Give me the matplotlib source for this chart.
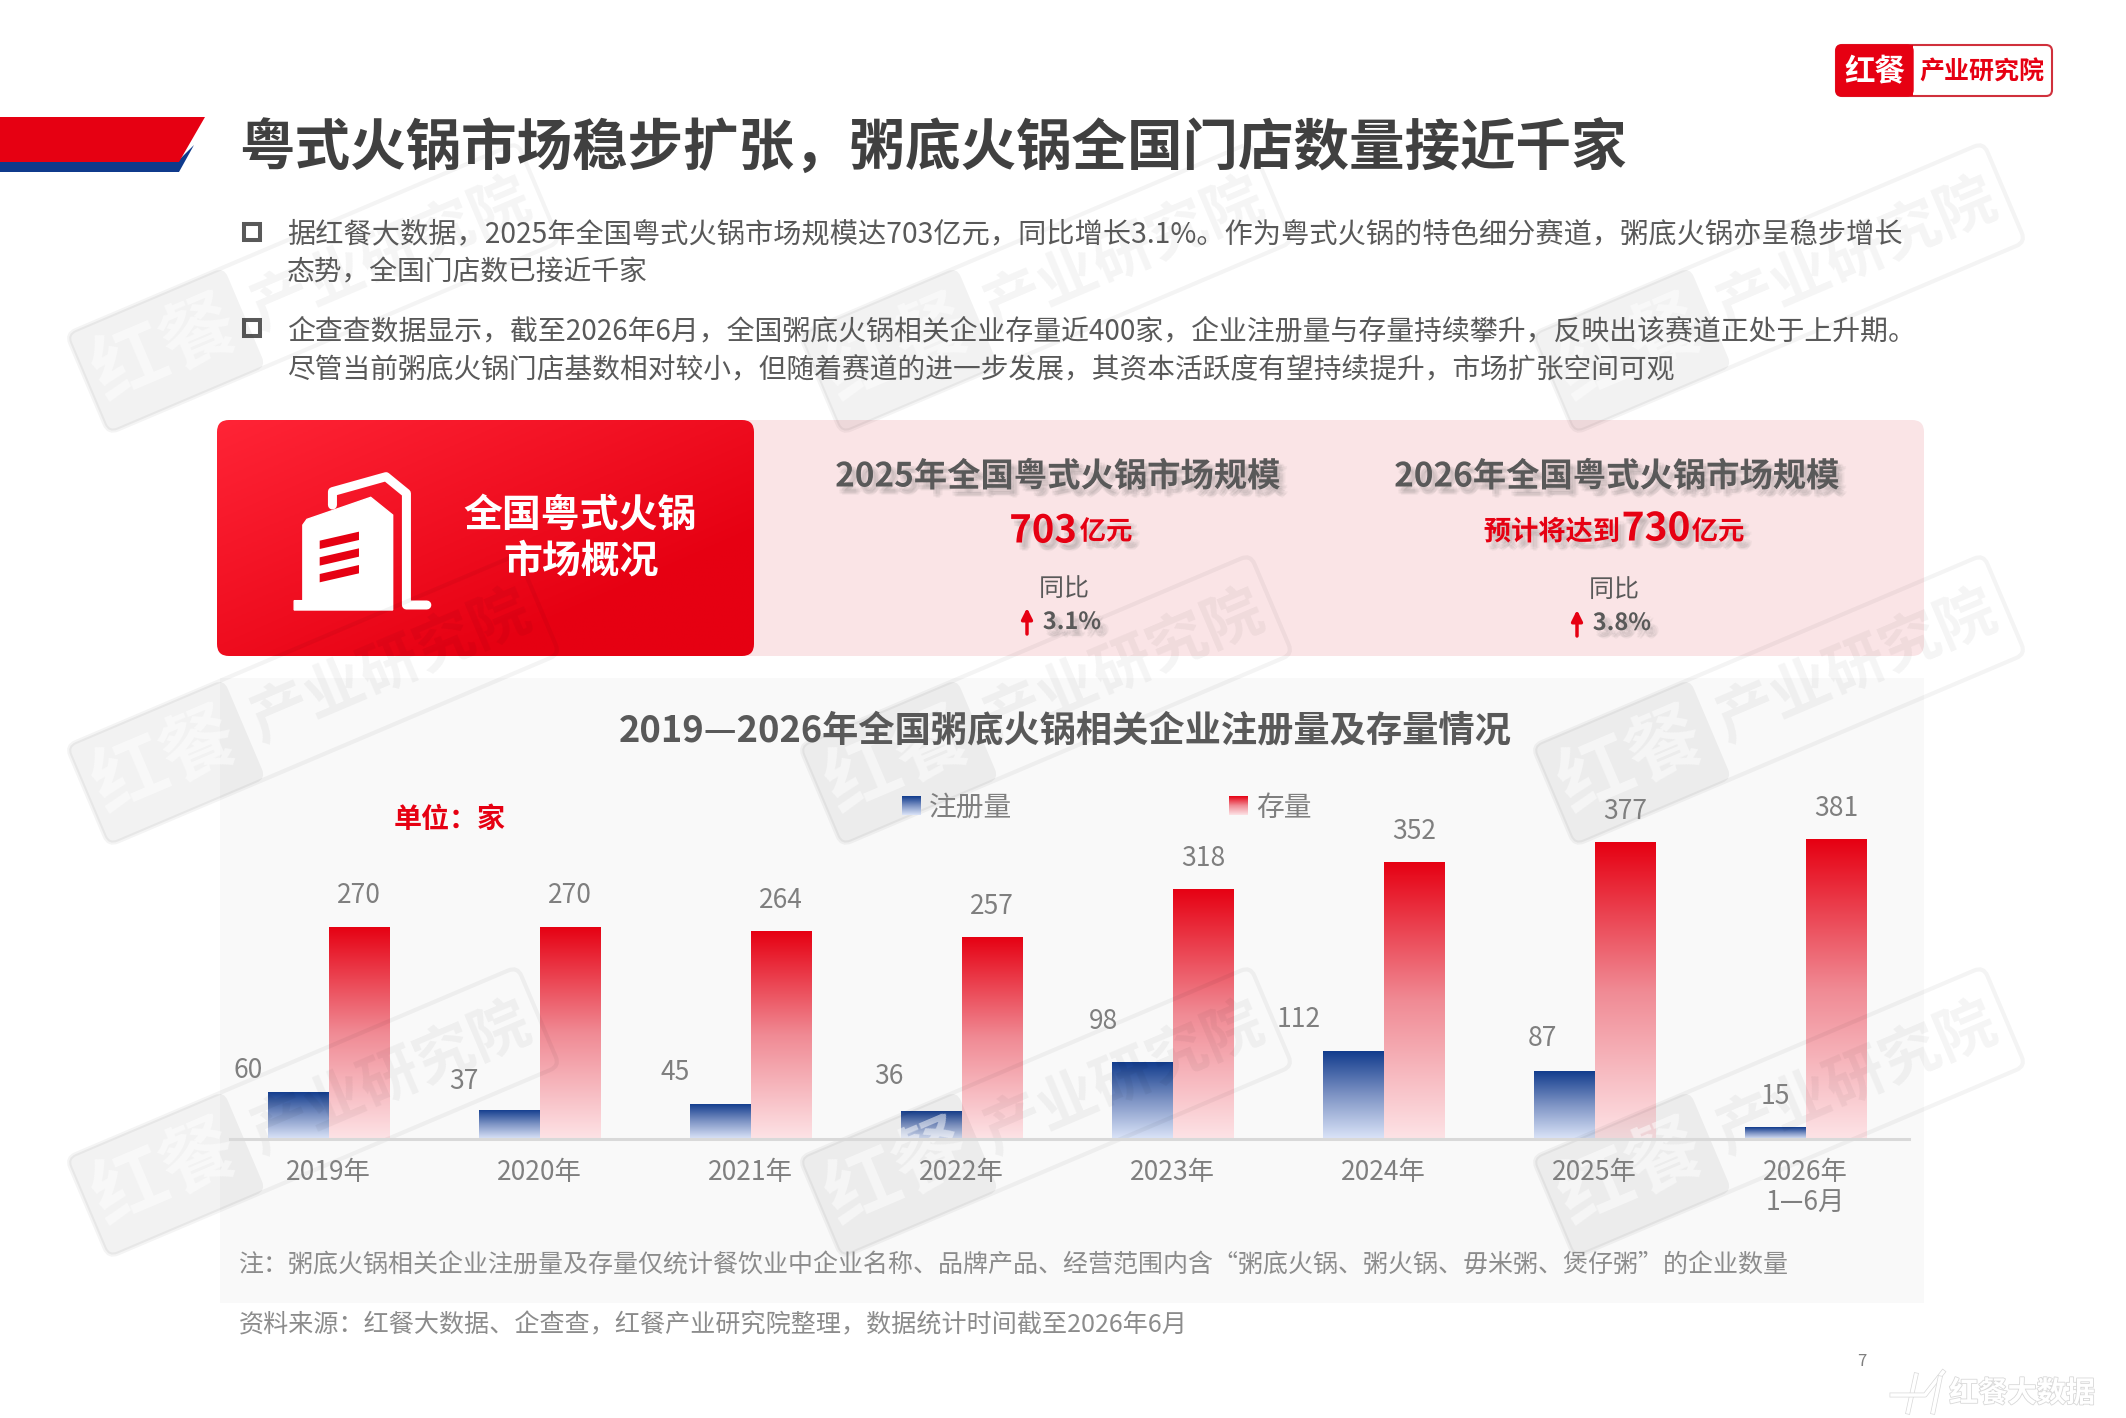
import numpy as np
import matplotlib
matplotlib.use("Agg")
import matplotlib.pyplot as plt
import matplotlib.patheffects as pe
from matplotlib.colors import LinearSegmentedColormap
from matplotlib.patches import FancyBboxPatch, Polygon, Rectangle
from matplotlib.transforms import Affine2D

plt.rcParams['font.family'] = ['Noto Sans CJK SC', 'DejaVu Sans']

W, H = 2126, 1418

# chart data
years = ["2019年", "2020年", "2021年", "2022年", "2023年", "2024年", "2025年", "2026年\n1—6月"]
registered = [60, 37, 45, 36, 98, 112, 87, 15]
existing = [270, 270, 264, 257, 318, 352, 377, 381]

# hand placed label offsets for the blue bars, in pixels from the bar top centre
reg_dx = [-50, -45, -45, -42, -38, -54, -22, 0]
reg_dy = [21, 28, 31, 34, 40, 31, 32, 31]

title = "粤式火锅市场稳步扩张，粥底火锅全国门店数量接近千家"
body_lines = [
    "据红餐大数据，2025年全国粤式火锅市场规模达703亿元，同比增长3.1%。作为粤式火锅的特色细分赛道，粥底火锅亦呈稳步增长",
    "态势，全国门店数已接近千家",
    "企查查数据显示，截至2026年6月，全国粥底火锅相关企业存量近400家，企业注册量与存量持续攀升，反映出该赛道正处于上升期。",
    "尽管当前粥底火锅门店基数相对较小，但随着赛道的进一步发展，其资本活跃度有望持续提升，市场扩张空间可观",
]
chart_title = "2019—2026年全国粥底火锅相关企业注册量及存量情况"
note = "注：粥底火锅相关企业注册量及存量仅统计餐饮业中企业名称、品牌产品、经营范围内含“粥底火锅、粥火锅、毋米粥、煲仔粥”的企业数量"
source = "资料来源：红餐大数据、企查查，红餐产业研究院整理，数据统计时间截至2026年6月"

RED = "#e60012"
BLUE = "#0f3a8c"
GREY_D = "#404040"
GREY_M = "#595959"
GREY_L = "#7f7f7f"

red_cmap = LinearSegmentedColormap.from_list("r", [RED, "#f08a94", "#fde3e6"])
blue_cmap = LinearSegmentedColormap.from_list("b", [BLUE, "#7d93c4", "#dbe4f8"])
vgrad = np.linspace(0, 1, 256).reshape(-1, 1)

fig = plt.figure(figsize=(W / 100, H / 100), dpi=100, facecolor="white")


def page_axes(zorder):
    a = fig.add_axes([0, 0, 1, 1], zorder=zorder)
    a.set_xlim(0, W)
    a.set_ylim(H, 0)
    a.axis("off")
    return a


page = page_axes(0)
over = page_axes(2)
top = page_axes(4)

# title band
page.add_patch(Polygon([(0, 160), (179, 160), (194, 145), (179, 172), (0, 172)], color=BLUE, lw=0))
page.add_patch(Polygon([(0, 117), (205, 117), (179, 162), (0, 162)], color=RED, lw=0))
top.text(239, 149, title, fontsize=40, fontweight="bold", color=GREY_D, va="center")

# logo
page.add_patch(FancyBboxPatch((1836, 45), 216, 51, boxstyle="round,pad=0,rounding_size=6",
                              fc="white", ec="#d0303c", lw=1.5))
page.add_patch(FancyBboxPatch((1836, 45), 77, 51, boxstyle="round,pad=0,rounding_size=6", fc=RED, ec=RED, lw=1))
page.add_patch(Rectangle((1895, 45), 18, 51, fc=RED, ec=RED, lw=0))
top.text(1875, 72, "红餐", fontsize=22, fontweight="bold", color="white", ha="center", va="center")
top.text(1982, 72, "产业研究院", fontsize=18, fontweight="bold", color=RED, ha="center", va="center")

# bullets and body text
for y in (232, 328):
    page.add_patch(Rectangle((244, y - 8), 16, 16, fc="none", ec=GREY_M, lw=2.9))
for y, line, size in zip((234, 272, 331, 370), body_lines, (20.3, 20, 20.05, 19.95)):
    top.text(287, y, line, fontsize=size, color=GREY_M, va="center")

# overview card
page.add_patch(FancyBboxPatch((730, 420), 1194, 236, boxstyle="round,pad=0,rounding_size=12", fc="#fae4e6", ec="none"))
card = FancyBboxPatch((217, 420), 537, 236, boxstyle="round,pad=0,rounding_size=12", fc="none", ec="none")
page.add_patch(card)
xx, yy = np.meshgrid(np.linspace(0, 1, 200), np.linspace(0, 1, 100))
diag = np.clip((xx + yy) / 1.5, 0, 1)
card_cmap = LinearSegmentedColormap.from_list("c", ["#ff2436", RED])
im = page.imshow(diag, cmap=card_cmap, extent=(217, 754, 656, 420), aspect="auto", origin="upper", zorder=1.5)
im.set_clip_path(card)
page.set_xlim(0, W)
page.set_ylim(H, 0)


def icon(zx, zy):
    return (210 + zx / 1.96, 420 + zy / 3)


page.add_patch(Polygon([icon(*p) for p in [(182, 570), (165, 570), (165, 542), (182, 542), (182, 315), (190, 298),
                                           (315, 232), (358, 285), (358, 570)]],
                       fc="white", ec="white", lw=1, zorder=3))
page.plot(*zip(*[icon(*p) for p in [(240, 255), (240, 215), (345, 170), (385, 220), (385, 555), (425, 555)]]),
          color="white", lw=6.5, solid_joinstyle="round", solid_capstyle="round", zorder=3)
for y0 in (362, 412, 462):
    page.add_patch(Polygon([icon(215, y0), icon(292, y0 - 27), icon(292, y0 - 2), icon(215, y0 + 25)],
                           fc=RED, ec="none", zorder=4))

top.text(580, 515, "全国粤式火锅", fontsize=28, fontweight="bold", color="white", ha="center", va="center")
top.text(581, 562, "市场概况", fontsize=28, fontweight="bold", color="white", ha="center", va="center")

# soft shadow, built from a few offset copies
shadow = [pe.SimplePatchShadow(offset=o, shadow_rgbFace="#666666", alpha=0.06)
          for o in ((2, -3), (4, -3), (3, -5), (5, -5), (6, -4), (4, -6), (2, -5))] + [pe.Normal()]


def stat(x, y, s, size, color=GREY_M, weight="bold", effects=shadow):
    top.text(x, y, s, fontsize=size, fontweight=weight, color=color, ha="center", va="center", path_effects=effects)


stat(1058, 477, "2025年全国粤式火锅市场规模", 24)
stat(1617, 477, "2026年全国粤式火锅市场规模", 24)
stat(1043, 531, "703", 27.5, RED)
stat(1106, 532, "亿元", 19, RED)
stat(1552, 532, "预计将达到", 19.6, RED)
stat(1656, 529, "730", 28, RED)
stat(1718, 532, "亿元", 19, RED)
stat(1064, 589, "同比", 18, weight="normal", effects=[pe.Normal()])
stat(1614, 590, "同比", 18, weight="normal", effects=[pe.Normal()])
stat(1072, 622, "3.1%", 17)
stat(1622, 623, "3.8%", 17)
for ax_x, ax_y in ((1027, 621), (1577, 623)):
    top.annotate("", xy=(ax_x, ax_y - 13), xytext=(ax_x, ax_y + 13),
                 arrowprops=dict(arrowstyle="-|>", color=RED, lw=2.5, mutation_scale=16, shrinkA=0, shrinkB=0))

# chart panel
page.add_patch(Rectangle((220, 678), 1704, 625, fc="#f9f9f9", ec="none"))
top.text(1065, 731, chart_title, fontsize=26.1, fontweight="bold", color=GREY_M, ha="center", va="center")
top.text(450, 820, "单位：家", fontsize=20.2, fontweight="bold", color=RED, ha="center", va="center")

for sx, cmap, label, tx in ((902, blue_cmap, "注册量", 970), (1229, red_cmap, "存量", 1284)):
    top.imshow(vgrad, cmap=cmap, extent=(sx, sx + 19, 815, 796), aspect="auto", origin="upper")
    top.text(tx, 808, label, fontsize=20, color=GREY_L, ha="center", va="center")
top.set_xlim(0, W)
top.set_ylim(H, 0)

top.text(239, 1266, note, fontsize=17.97, color="#8c8c8c", va="center")
top.text(239, 1325, source, fontsize=18.05, color="#8c8c8c", va="center")
top.text(1862, 1361, "7", fontsize=12, color=GREY_L, ha="center", va="center")

# bars, with gradient images clipped to each bar
chart_rect = [230 / W, 1 - 1139 / H, (1909 - 230) / W, 360 / H]
x0, step = 328.5, 211.0
xlim = ((230 - x0) / step, (1909 - x0) / step)
ylim = (0, 360 / 0.787)
bar_w = 61 / step
x = np.arange(len(years))

ax = fig.add_axes(chart_rect, zorder=1)
ax.patch.set_alpha(0)
ax.axis("off")
blue_bars = ax.bar(x - bar_w / 2, registered, bar_w, fc="none", ec="none")
red_bars = ax.bar(x + bar_w / 2, existing, bar_w, fc="none", ec="none")
for bars, cmap in ((blue_bars, blue_cmap), (red_bars, red_cmap)):
    for b in bars:
        g = ax.imshow(vgrad, cmap=cmap, aspect="auto", origin="upper",
                      extent=(b.get_x(), b.get_x() + b.get_width(), 0, b.get_height()))
        g.set_clip_path(b)
ax.set_xlim(*xlim)
ax.set_ylim(*ylim)

# labels and axis line sit above the watermark layer
lab = fig.add_axes(chart_rect, zorder=3)
lab.patch.set_alpha(0)
lab.set_xlim(*xlim)
lab.set_ylim(*ylim)
for b, v in zip(red_bars, existing):
    lab.annotate(str(v), (b.get_x() + b.get_width() / 2, v), xytext=(0, 22), textcoords="offset points",
                 ha="center", va="center", fontsize=19, color=GREY_L)
for b, v, dx, dy in zip(blue_bars, registered, reg_dx, reg_dy):
    lab.annotate(str(v), (b.get_x() + b.get_width() / 2, v), xytext=(dx * 0.72, dy * 0.72), textcoords="offset points",
                 ha="center", va="center", fontsize=19, color=GREY_L)
lab.set_xticks(x, years)
lab.tick_params(axis="x", length=0, pad=14.5, labelsize=19, labelcolor=GREY_L)
lab.set_yticks([])
for s in ("top", "left", "right"):
    lab.spines[s].set_visible(False)
lab.spines["bottom"].set_color("#d9d9d9")
lab.spines["bottom"].set_linewidth(2.2)

# watermarks
angle = 23
for cx in (313, 1046, 1779):
    for cy in (288, 700, 1112):
        rot = Affine2D().rotate_deg(-angle).translate(cx, cy) + over.transData
        over.add_patch(FancyBboxPatch((-245, -54), 490, 108, boxstyle="round,pad=0,rounding_size=10",
                                      fc="none", ec="#000000", alpha=0.045, lw=3, transform=rot))
        over.add_patch(FancyBboxPatch((-245, -54), 171, 108, boxstyle="round,pad=0,rounding_size=10",
                                      fc="#000000", ec="none", alpha=0.05, transform=rot))
        inv = over.transData.inverted()
        over.text(*inv.transform(rot.transform((-160, 0))), "红餐", fontsize=54, fontweight="bold",
                  color="white", alpha=0.5, rotation=angle, rotation_mode="anchor", ha="center", va="center")
        over.text(*inv.transform(rot.transform((85, 0))), "产业研究院", fontsize=43, fontweight="bold",
                  color="#000000", alpha=0.045, rotation=angle, rotation_mode="anchor", ha="center", va="center")

# footer brand
outline = [pe.Stroke(linewidth=1.2, foreground="#d8d8d8"), pe.Normal()]
top.text(2022, 1393, "红餐大数据", fontsize=21, fontweight="bold", color="white", ha="center", va="center",
         path_effects=outline)
for sx, sy in (([1908, 1916], [1412, 1375]), ([1892, 1925, 1943], [1395, 1395, 1372]), ([1933, 1940], [1412, 1378])):
    top.plot(sx, sy, color="white", lw=2.5, path_effects=[pe.Stroke(linewidth=3.5, foreground="#d8d8d8"), pe.Normal()])

fig.savefig("out.png", dpi=100)
